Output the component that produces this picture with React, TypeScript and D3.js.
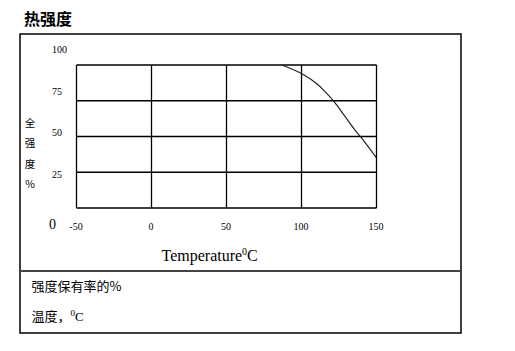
import React from "react";
import * as d3 from "d3";

const temps = [87, 100, 110, 116, 122, 129, 136, 140, 150];
const strength = [100, 94, 87, 81, 74, 64, 54, 49, 35];
const xTicks = [-50, 0, 50, 100, 150];
const yGrid = [0, 25, 50, 75, 100];
const yTickLabels = [100, 75, 50, 25];
const yTitleChars = ["全", "强", "度", "%"];
const title = "热强度";
const footLine1 = "强度保有率的%";
const footLine2a = "温度，";

const W = 515;
const H = 351;
const serif = "'Liberation Serif', 'Times New Roman', serif";
const cjk = "'Noto Sans CJK SC', sans-serif";

export default function App() {
  const x = d3.scaleLinear().domain([-50, 150]).range([76.5, 376.5]);
  const y = d3.scaleLinear().domain([0, 100]).range([208, 65]);
  // tick labels sit apart from the grid in the original layout
  const yLab = d3.scaleLinear().domain([0, 25, 100]).range([229, 178, 53]);
  const pts = temps.map((t, i) => [t, strength[i]] as [number, number]);
  const line = d3
    .line<[number, number]>()
    .x((d) => x(d[0]))
    .y((d) => y(d[1]))
    .curve(d3.curveCatmullRom.alpha(0.5));

  return (
    <svg
      width={W}
      height={H}
      style={{ position: "absolute", left: 0, top: 0, background: "#fff" }}
    >
      <rect x={0} y={0} width={W} height={H} fill="#fff" />
      <text x={24} y={25} fontFamily={cjk} fontWeight="bold" fontSize={16} fill="#000">
        {title}
      </text>
      <rect x={20} y={34} width={441} height={299} fill="none" stroke="#000" strokeWidth={1.5} />
      <line x1={20} x2={461} y1={271} y2={271} stroke="#444" strokeWidth={1.8} />

      {/* grid */}
      {yGrid.map((v) => (
        <line key={"h" + v} x1={x(-50)} x2={x(150)} y1={y(v)} y2={y(v)} stroke="#000" strokeWidth={1.3} />
      ))}
      {xTicks.map((t) => (
        <line key={"v" + t} x1={x(t)} x2={x(t)} y1={y(0)} y2={y(100)} stroke="#000" strokeWidth={1.3} />
      ))}

      {/* curve */}
      <path d={line(pts) || ""} fill="none" stroke="#222" strokeWidth={1.2} />

      {/* y tick labels */}
      {yTickLabels.map((v) => (
        <text key={"yl" + v} x={52} y={yLab(v)} fontFamily={serif} fontSize={10} fill="#000">
          {v}
        </text>
      ))}
      <text x={49} y={yLab(0)} fontFamily={serif} fontSize={14} fill="#000">
        0
      </text>

      {/* x tick labels */}
      {xTicks.map((t) => (
        <text key={"xl" + t} x={x(t) - 0.5} y={230} textAnchor="middle" fontFamily={serif} fontSize={10} fill="#000">
          {t}
        </text>
      ))}

      {/* x title */}
      <text x={161.5} y={261} fontFamily={serif} fontSize={16} fill="#000">
        Temperature
        <tspan fontSize={10} dy={-6}>0</tspan>
        <tspan dy={6}>C</tspan>
      </text>

      {/* y title */}
      {yTitleChars.map((c, i) => (
        <text key={"yt" + i} x={30} y={127 + i * 20.3} textAnchor="middle" fontFamily={cjk} fontSize={10.5} fill="#000">
          {c}
        </text>
      ))}

      {/* footnotes */}
      <text x={31.5} y={291} fontFamily={cjk} fontSize={13} fill="#000">
        {footLine1}
      </text>
      <text x={31.5} y={321} fontFamily={cjk} fontSize={13} fill="#000">
        {footLine2a}
        <tspan fontFamily={serif} fontSize={9} dy={-5}>0</tspan>
        <tspan fontFamily={serif} fontSize={13} dy={5}>C</tspan>
      </text>
    </svg>
  );
}
